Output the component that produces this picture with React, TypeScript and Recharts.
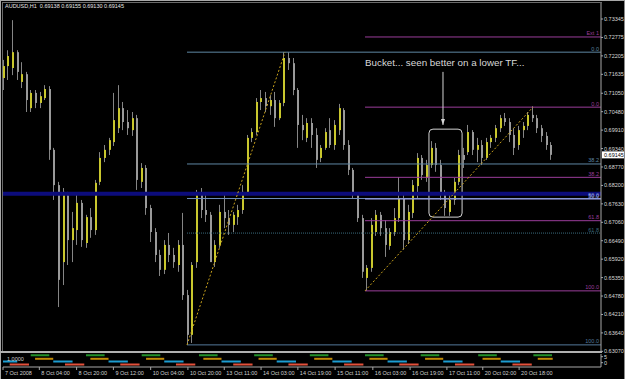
import React from "react";
import {
  ComposedChart,
  Bar,
  XAxis,
  YAxis,
  ReferenceLine,
  ReferenceArea,
  ReferenceDot,
} from "recharts";

// AUDUSD, two-hour candles (7 Oct 12:00 -> 21 Oct)
const OPEN = [
  0.7152, 0.7189, 0.7183, 0.7232, 0.714, 0.7164, 0.7059, 0.7106, 0.7075, 0.709,
  0.7118, 0.693, 0.6821, 0.6583, 0.679, 0.6651, 0.6682, 0.6766, 0.6642, 0.6722,
  0.6682, 0.6831, 0.6905, 0.693, 0.6954, 0.6997, 0.7059, 0.7016, 0.6991, 0.7028,
  0.6831, 0.6874, 0.675, 0.6676, 0.6605, 0.6559, 0.6636, 0.6605, 0.6574, 0.6636,
  0.6481, 0.6358, 0.6583, 0.679, 0.6744, 0.6729, 0.6583, 0.6636, 0.6738, 0.6719,
  0.6698, 0.6722, 0.6744, 0.68, 0.6967, 0.6985, 0.7078, 0.709, 0.7065, 0.7084,
  0.7028, 0.7075, 0.7214, 0.7198, 0.7115, 0.7007, 0.6967, 0.7013, 0.6976, 0.6905,
  0.6936, 0.6991, 0.6945, 0.6991, 0.7053, 0.6945, 0.6868, 0.679, 0.6719, 0.6534,
  0.6565, 0.6676, 0.6729, 0.6688, 0.6633, 0.6676, 0.6719, 0.6781, 0.6651, 0.6735,
  0.6818, 0.6905, 0.6843, 0.6883, 0.6936, 0.6883, 0.679, 0.6738, 0.6775, 0.6831,
  0.6914, 0.6923, 0.6985, 0.693, 0.6945, 0.6905, 0.6954, 0.6967, 0.6997, 0.7028,
  0.7016, 0.6976, 0.6945, 0.6991, 0.7004, 0.7038, 0.7028, 0.6997, 0.6973, 0.6945,
];
const HIGH = [
  0.7208, 0.7238, 0.7331, 0.7238, 0.7201, 0.7171, 0.7115, 0.7115, 0.7109, 0.713,
  0.7127, 0.6936, 0.6831, 0.6812, 0.68, 0.6738, 0.6797, 0.6775, 0.6729, 0.675,
  0.6837, 0.6923, 0.6945, 0.6967, 0.7106, 0.713, 0.7078, 0.7053, 0.7047, 0.7038,
  0.6889, 0.6883, 0.676, 0.6688, 0.6621, 0.6651, 0.6673, 0.6627, 0.6651, 0.6735,
  0.6497, 0.6583, 0.6806, 0.6812, 0.679, 0.6738, 0.6651, 0.676, 0.679, 0.6744,
  0.6738, 0.676, 0.6821, 0.6976, 0.6997, 0.709, 0.7115, 0.7109, 0.7099, 0.7109,
  0.7084, 0.7232, 0.7232, 0.7214, 0.7121, 0.7038, 0.7028, 0.7028, 0.6997, 0.6945,
  0.6997, 0.7028, 0.7022, 0.7072, 0.7059, 0.696, 0.6874, 0.6797, 0.6729, 0.6574,
  0.6719, 0.6744, 0.6738, 0.6713, 0.6688, 0.675, 0.6846, 0.679, 0.676, 0.6837,
  0.692, 0.6914, 0.6899, 0.6957, 0.6951, 0.6899, 0.6806, 0.679, 0.6843, 0.693,
  0.6936, 0.7007, 0.6991, 0.6967, 0.696, 0.6967, 0.6976, 0.7007, 0.7038, 0.7044,
  0.7028, 0.6997, 0.7004, 0.7016, 0.7047, 0.7065, 0.7038, 0.7007, 0.6985, 0.6954,
];
const LOW = [
  0.7115, 0.7146, 0.7161, 0.7146, 0.7121, 0.7047, 0.7047, 0.7059, 0.7059, 0.7084,
  0.6899, 0.6775, 0.6444, 0.6512, 0.6574, 0.6583, 0.6636, 0.663, 0.6627, 0.6658,
  0.6667, 0.6821, 0.6892, 0.6914, 0.6942, 0.6982, 0.6991, 0.6976, 0.6973, 0.6806,
  0.6812, 0.6729, 0.6645, 0.6583, 0.654, 0.6546, 0.6583, 0.6565, 0.6553, 0.6466,
  0.6327, 0.6333, 0.6565, 0.6719, 0.6707, 0.6605, 0.6568, 0.6627, 0.6688, 0.6667,
  0.6676, 0.6698, 0.6732, 0.679, 0.6954, 0.6976, 0.7053, 0.7047, 0.7038, 0.7001,
  0.7022, 0.7065, 0.7177, 0.7099, 0.6936, 0.696, 0.6954, 0.6936, 0.6874, 0.6892,
  0.693, 0.6936, 0.693, 0.6976, 0.693, 0.6852, 0.6781, 0.6707, 0.6534, 0.6494,
  0.6553, 0.6664, 0.6664, 0.6599, 0.6621, 0.6664, 0.6707, 0.6621, 0.6639, 0.6719,
  0.6781, 0.6837, 0.6831, 0.6874, 0.6862, 0.6775, 0.6726, 0.6726, 0.676, 0.6821,
  0.6874, 0.6914, 0.6914, 0.6892, 0.6883, 0.6899, 0.6936, 0.6954, 0.6985, 0.7004,
  0.6954, 0.6914, 0.693, 0.6967, 0.6991, 0.7016, 0.6982, 0.6954, 0.693, 0.6899,
];
const CLOSE = [
  0.7189, 0.722, 0.7232, 0.7171, 0.7164, 0.7084, 0.7106, 0.7075, 0.7096, 0.7118,
  0.693, 0.6821, 0.6528, 0.68, 0.6651, 0.6688, 0.6766, 0.6651, 0.6722, 0.6682,
  0.6828, 0.6905, 0.693, 0.696, 0.7022, 0.7059, 0.7016, 0.6997, 0.7028, 0.6837,
  0.6874, 0.675, 0.6676, 0.6605, 0.6559, 0.6636, 0.6605, 0.6583, 0.6636, 0.6481,
  0.6358, 0.6574, 0.679, 0.6744, 0.6729, 0.6583, 0.6636, 0.6738, 0.6719, 0.6698,
  0.6729, 0.6744, 0.68, 0.6967, 0.6985, 0.7078, 0.709, 0.7065, 0.7084, 0.7028,
  0.7075, 0.7214, 0.7198, 0.7115, 0.7007, 0.6991, 0.7013, 0.6976, 0.6899, 0.6936,
  0.6985, 0.6945, 0.7007, 0.7059, 0.6945, 0.6868, 0.679, 0.6719, 0.6553, 0.6565,
  0.6698, 0.6729, 0.6688, 0.6636, 0.6676, 0.6719, 0.6781, 0.6651, 0.6738, 0.6821,
  0.6905, 0.6852, 0.6883, 0.6936, 0.6883, 0.679, 0.675, 0.6775, 0.6831, 0.6914,
  0.6899, 0.6985, 0.693, 0.6945, 0.6905, 0.6954, 0.6967, 0.6997, 0.7028, 0.7016,
  0.6976, 0.6936, 0.6991, 0.7004, 0.7038, 0.7028, 0.6997, 0.6973, 0.6945, 0.69145,
];

const PRICE_TICKS = [
  0.73345, 0.72775, 0.72205, 0.71635, 0.7105, 0.7048, 0.6991, 0.6934, 0.6877,
  0.682, 0.6763, 0.6706, 0.6649, 0.6592, 0.6535, 0.6478, 0.6421, 0.6364, 0.6307,
];
const TIME_TICKS = [0, 7.9, 16, 24, 32.1, 40.2, 48.1, 56.1, 64.1, 72.2, 80.4, 88.5, 96.5, 104.3, 112.2];
const TIME_LABELS = [
  "7 Oct 2008", "8 Oct 04:00", "8 Oct 20:00", "9 Oct 12:00", "10 Oct 04:00",
  "10 Oct 20:00", "13 Oct 11:00", "14 Oct 03:00", "14 Oct 19:00", "15 Oct 11:00",
  "16 Oct 03:00", "16 Oct 19:00", "17 Oct 11:00", "20 Oct 02:00", "20 Oct 18:00",
];

const LAST_PRICE = 0.69145;
const HEADER = "AUDUSD,H1  0.69138 0.69155 0.69130 0.69145";
const NOTE = "Bucket... seen better on a lower TF...";

// fibonacci objects: anchors in bar / price units
const FIB_A = { from: 40, to: 61.3, low: 0.6327, high: 0.7232 };
const FIB_A_LEVELS = [0, 38.2, 50, 61.8, 100];
const FIB_A_COLORS = ["#5f87a3", "#5f87a3", "#6f8fc0", "#3a6a7c", "#54789a"];
const FIB_B = { from: 78.7, to: 115.2, low: 0.6494, high: 0.7062 };
const FIB_B_LEVELS = [-38.2, 0, 38.2, 50, 61.8, 100];
const FIB_B_COLORS = ["#9a3d9a", "#9a3d9a", "#9a3d9a", "#a3a3f2", "#9a3d9a", "#9a3d9a"];

const SUPPORT = 0.67945;
const BOX = { x1: 92.6, x2: 99.8, y1: 0.6722, y2: 0.6994 };
const ARROW = { x: 95.65, top: 0.7171, tip: 0.7007 };

// session indicator (sub window): day start bars and session hours
const DAY_STARTS = [-6, 6.02, 18.04, 30.15, 42.6, 54.6, 66.7, 78.7, 90.8, 103.3, 115.3];
const SESSIONS = [
  { from: 0, to: 4.05, level: 6.2, color: "#23922a" },
  { from: 0.95, to: 4.9, level: 3.25, color: "#c08a06" },
  { from: 4.9, to: 9.1, level: 1, color: "#1c9cd0" },
  { from: 7.45, to: 11.65, level: -1.5, color: "#e4503a" },
];

const candles = OPEN.map((o, i) => ({
  i,
  open: o,
  high: HIGH[i],
  low: LOW[i],
  close: CLOSE[i],
  range: [LOW[i], HIGH[i]],
}));
const LAST_BAR = candles.length - 0.5;
const X_DOMAIN: [number, number] = [0, 130];

const FONT = "'Liberation Sans', Arial, sans-serif";
const GRID = "#a8a8a8";

function Candle(props: any) {
  const { x, y, width, height, payload } = props;
  if (x == null || !payload) return null;
  const top = Math.min(y, y + height);
  const h = Math.abs(height);
  const ppx = h / (payload.high - payload.low || 1);
  const cx = Math.round(x + width / 2);
  const yo = top + (payload.high - payload.open) * ppx;
  const yc = top + (payload.high - payload.close) * ppx;
  const bull = payload.close >= payload.open;
  return (
    <g>
      <line x1={cx + 0.5} x2={cx + 0.5} y1={top} y2={top + h} stroke="#858585" strokeWidth={1} />
      <rect
        x={cx}
        y={Math.min(yo, yc)}
        width={2}
        height={Math.max(1, Math.abs(yo - yc))}
        fill={bull ? "#c9c72e" : "#9a9a9a"}
      />
    </g>
  );
}

const levelLabel = (text: string, color: string) => (props: any) => {
  const vb = props.viewBox || {};
  const right = vb.x2 != null ? Math.max(vb.x1, vb.x2) : vb.x + vb.width;
  const y = vb.y1 != null ? vb.y1 : vb.y;
  return (
    <text x={right - 2} y={y - 1.5} textAnchor="end" fontSize={5.5} fill={color} fontFamily={FONT}>
      {text}
    </text>
  );
};

const priceBox = (props: any) => {
  const vb = props.viewBox || {};
  const right = vb.x2 != null ? Math.max(vb.x1, vb.x2) : vb.x + vb.width;
  const y = vb.y1 != null ? vb.y1 : vb.y;
  return (
    <g>
      <rect x={right + 1} y={y - 3.5} width={22} height={7} fill="#ffffff" />
      <text x={right + 3} y={y + 2} fontSize={5.5} fill="#000" fontFamily={FONT}>
        {LAST_PRICE.toFixed(5)}
      </text>
    </g>
  );
};

function TimeTick(props: any) {
  const { x, y, index } = props;
  return (
    <text x={x + 2} y={y + 5} fontSize={5.5} fill="#d0d0d0" fontFamily={FONT}>
      {TIME_LABELS[index]}
    </text>
  );
}

function fibLines(fib: typeof FIB_A, levels: number[], colors: string[], prefix: string) {
  const span = fib.high - fib.low;
  return levels.map((lv, n) => {
    const price = fib.high - (lv / 100) * span;
    const text = lv < 0 ? "Ext 1" : lv.toFixed(1);
    return (
      <ReferenceLine
        key={prefix + n}
        segment={[{ x: fib.from, y: price }, { x: X_DOMAIN[1], y: price }]}
        stroke={colors[n]}
        strokeDasharray={lv === 61.8 && prefix === "a" ? "1 1" : undefined}
        label={levelLabel(text, colors[n])}
      />
    );
  });
}

export default function App() {
  const sessionLines = DAY_STARTS.flatMap((d, di) =>
    SESSIONS.map((s, si) => {
      const from = Math.max(0, d + s.from);
      const to = Math.min(LAST_BAR, d + s.to);
      if (to <= from) return null;
      return (
        <ReferenceLine
          key={`s${di}-${si}`}
          segment={[{ x: from, y: s.level }, { x: to, y: s.level }]}
          stroke={s.color}
          strokeWidth={2}
        />
      );
    })
  );

  return (
    <div
      style={{
        position: "absolute",
        left: 0,
        top: 0,
        width: 625,
        height: 379,
        background: "#000",
        overflow: "hidden",
        fontFamily: FONT,
      }}
    >
      {/* frame */}
      <div style={{ position: "absolute", left: 0, top: 0, width: 623, height: 378, borderLeft: `1px solid ${GRID}`, borderTop: `1px solid ${GRID}`, borderRight: "1px solid #8a8a8a" }} />
      <div style={{ position: "absolute", left: 2, top: 2, width: 599, height: 350, borderLeft: "1px solid #6a6a6a", borderTop: "1px solid #6a6a6a" }} />
      <div style={{ position: "absolute", left: 0, top: 351, width: 602, height: 2, background: "#b0b0b0" }} />

      <div style={{ position: "absolute", left: 0, top: 0 }}>
        <ComposedChart width={625} height={358} data={candles} margin={{ top: 3, right: 0, bottom: 6, left: 3 }}>
          <XAxis type="number" dataKey="i" domain={X_DOMAIN} hide allowDataOverflow />
          <YAxis
            orientation="right"
            width={24}
            domain={[0.6305, 0.7384]}
            ticks={PRICE_TICKS}
            interval={0}
            allowDataOverflow
            tickSize={2}
            tickMargin={1}
            axisLine={{ stroke: GRID }}
            tickLine={{ stroke: GRID }}
            tick={{ fontSize: 5.5, fill: "#d8d8d8" }}
            tickFormatter={(v: number) => v.toFixed(5)}
          />
          <ReferenceLine y={SUPPORT} stroke="#0c0c7c" strokeWidth={4} />
          {fibLines(FIB_A, FIB_A_LEVELS, FIB_A_COLORS, "a")}
          {fibLines(FIB_B, FIB_B_LEVELS, FIB_B_COLORS, "b")}
          <ReferenceLine
            segment={[{ x: FIB_A.from, y: FIB_A.low }, { x: FIB_A.to, y: FIB_A.high }]}
            stroke="#c9a21c"
            strokeDasharray="2 2"
          />
          <ReferenceLine
            segment={[{ x: FIB_B.from, y: FIB_B.low }, { x: FIB_B.to, y: FIB_B.high }]}
            stroke="#c9a21c"
            strokeDasharray="2 2"
          />
          <Bar
            dataKey="range"
            barSize={2}
            isAnimationActive={false}
            shape={(p: any) => <Candle {...p} />}
          />
          <ReferenceArea
            x1={BOX.x1}
            x2={BOX.x2}
            y1={BOX.y1}
            y2={BOX.y2}
            shape={(p: any) => (
              <rect x={p.x} y={p.y} width={p.width} height={p.height} rx={4} fill="none" stroke="#d4d4d4" strokeWidth={1} />
            )}
          />
          <ReferenceLine
            segment={[{ x: ARROW.x, y: ARROW.top }, { x: ARROW.x, y: ARROW.tip }]}
            stroke="#d4d4d4"
          />
          <ReferenceDot
            x={ARROW.x}
            y={ARROW.tip}
            shape={(p: any) => (
              <path d={`M${p.cx - 2},${p.cy - 6} L${p.cx + 2},${p.cy - 6} L${p.cx},${p.cy} Z`} fill="#d4d4d4" />
            )}
          />
          <ReferenceLine y={LAST_PRICE} stroke="none" label={priceBox} />
        </ComposedChart>
      </div>

      <div style={{ position: "absolute", left: 0, top: 353 }}>
        <ComposedChart width={625} height={26} data={candles} margin={{ top: 1, right: 0, bottom: 0, left: 3 }}>
          <XAxis
            type="number"
            dataKey="i"
            domain={X_DOMAIN}
            allowDataOverflow
            ticks={TIME_TICKS}
            interval={0}
            height={12}
            tickSize={3}
            tickMargin={0}
            axisLine={{ stroke: GRID }}
            tickLine={{ stroke: GRID }}
            tick={(p: any) => <TimeTick {...p} />}
          />
          <YAxis
            orientation="right"
            width={24}
            domain={[-3.58, 7.25]}
            ticks={[5, 0]}
            interval={0}
            allowDataOverflow
            tickSize={2}
            tickMargin={1}
            axisLine={{ stroke: GRID }}
            tickLine={{ stroke: GRID }}
            tick={{ fontSize: 5.5, fill: "#d8d8d8" }}
          />
          {sessionLines}
        </ComposedChart>
      </div>

      <div style={{ position: "absolute", left: 5, top: 3, fontSize: 5.5, lineHeight: "7px", color: "#e6e6e6", whiteSpace: "pre" }}>
        {HEADER}
      </div>
      <div style={{ position: "absolute", left: 7, top: 356, fontSize: 5.5, lineHeight: "6px", color: "#d0d0d0" }}>
        1.0000
      </div>
      <div style={{ position: "absolute", left: 365, top: 57, fontSize: 9.8, lineHeight: "12px", color: "#d8d8d8", whiteSpace: "pre" }}>
        {NOTE}
      </div>
    </div>
  );
}
